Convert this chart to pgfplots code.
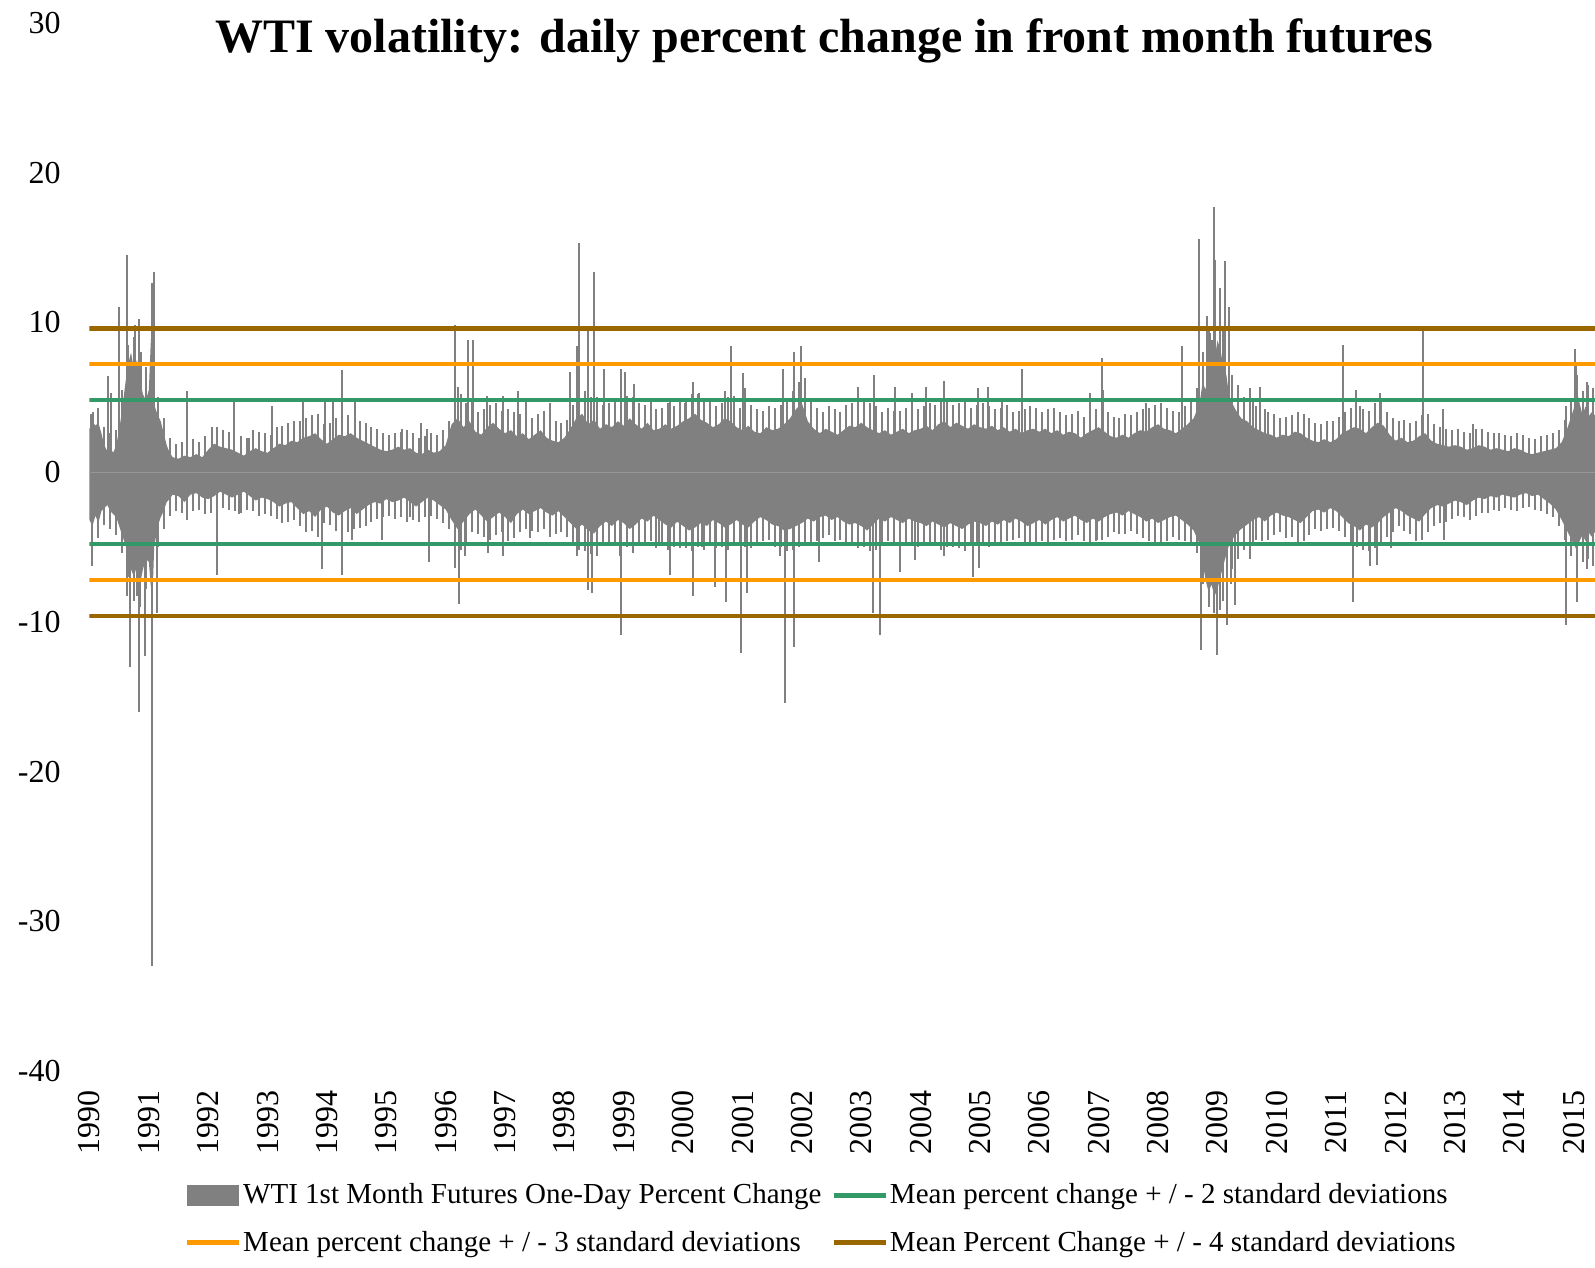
\documentclass[border=0pt]{standalone}
\usepackage{fontspec}
\setmainfont{Liberation Serif}
\usepackage{pgfplots}
\pgfplotsset{compat=1.18}
\definecolor{barg}{RGB}{128,128,128}
\definecolor{sdgreen}{RGB}{51,153,102}
\definecolor{sdorange}{RGB}{255,153,0}
\definecolor{sdbrown}{RGB}{153,102,0}
\definecolor{zeroline}{RGB}{150,150,150}
\begin{document}
\begin{tikzpicture}
\path[use as bounding box] (-44.75pt,-98.5pt) rectangle (752.75pt,535.5pt);
\begin{axis}[
  at={(0,0)}, anchor=south west,
  scale only axis, width=752.75pt, height=524pt,
  xmin=1990, xmax=2015.36, ymin=-40, ymax=30,
  axis line style={draw=none},
  major tick length=0pt,
  xtick={1990,1991,1992,1993,1994,1995,1996,1997,1998,1999,2000,2001,2002,2003,2004,2005,2006,2007,2008,2009,2010,2011,2012,2013,2014,2015},
  xticklabels={1990,1991,1992,1993,1994,1995,1996,1997,1998,1999,2000,2001,2002,2003,2004,2005,2006,2007,2008,2009,2010,2011,2012,2013,2014,2015},
  ytick={-40,-30,-20,-10,0,10,20,30},
  yticklabels={-40,-30,-20,-10,0,10,20,30},
  ticklabel style={font=\fontsize{16}{19}\selectfont, inner sep=0pt},
  xticklabel style={rotate=90, anchor=east},
  yticklabel style={anchor=east},
  xticklabel shift=9.5pt,
  yticklabel shift=14.25pt,
  clip=true,
  legend columns=2,
  legend cell align=left,
  legend style={at={(0.486,-0.1412)}, anchor=center, draw=none, fill=none,
    font=\fontsize{14.5}{17}\selectfont, row sep=10pt,
    /tikz/every even column/.append style={column sep=4pt},
    nodes={inner sep=1pt}},
]
% upper core of daily changes
\addplot[fill=barg, draw=none, forget plot] coordinates {
(1990.00,2.9)(1990.05,3.4)(1990.10,3.1)(1990.15,3.3)(1990.20,2.6)(1990.25,1.8)(1990.30,1.4)(1990.35,1.6)(1990.40,1.3)(1990.45,1.8)
(1990.50,2.8)(1990.55,4.2)(1990.60,5.8)(1990.65,7.2)(1990.70,8.0)(1990.75,6.8)(1990.80,7.5)(1990.85,6.2)(1990.90,5.2)(1990.95,4.8)
(1991.00,5.5)(1991.03,8.5)(1991.06,10.5)(1991.09,4.5)(1991.15,3.8)(1991.20,3.4)(1991.25,2.6)(1991.30,1.8)(1991.35,1.3)(1991.40,1.0)
(1991.50,0.9)(1991.60,1.1)(1991.70,1.0)(1991.80,1.2)(1991.90,1.0)(1992.00,1.5)(1992.10,1.9)(1992.20,1.7)(1992.30,1.6)(1992.40,1.5)
(1992.50,1.3)(1992.60,1.1)(1992.70,1.4)(1992.80,1.6)(1992.90,1.4)(1993.00,1.3)(1993.10,1.6)(1993.20,1.9)(1993.30,1.8)(1993.40,2.1)
(1993.50,2.0)(1993.60,2.3)(1993.70,2.4)(1993.80,2.6)(1993.90,2.2)(1994.00,1.9)(1994.10,2.2)(1994.20,2.5)(1994.30,2.4)(1994.40,2.6)
(1994.50,2.3)(1994.60,2.1)(1994.70,1.9)(1994.80,1.7)(1994.90,1.5)(1995.00,1.4)(1995.10,1.5)(1995.20,1.7)(1995.30,1.5)(1995.40,1.6)
(1995.50,1.3)(1995.60,1.2)(1995.70,1.5)(1995.80,1.3)(1995.90,1.4)(1996.00,1.8)(1996.10,3.2)(1996.20,3.6)(1996.30,3.0)(1996.40,3.4)
(1996.50,2.7)(1996.60,2.5)(1996.70,3.0)(1996.80,3.3)(1996.90,2.9)(1997.00,2.6)(1997.10,2.8)(1997.20,2.4)(1997.30,2.6)(1997.40,2.2)
(1997.50,2.5)(1997.60,2.8)(1997.70,2.3)(1997.80,2.1)(1997.90,2.0)(1998.00,2.3)(1998.10,2.9)(1998.20,3.6)(1998.30,3.9)(1998.40,3.2)
(1998.50,3.5)(1998.60,2.9)(1998.70,3.2)(1998.80,3.0)(1998.90,3.4)(1999.00,3.1)(1999.10,3.6)(1999.20,3.2)(1999.30,2.9)(1999.40,3.3)
(1999.50,2.8)(1999.60,2.9)(1999.70,3.2)(1999.80,2.9)(1999.90,3.1)(2000.00,3.4)(2000.10,3.6)(2000.20,3.9)(2000.30,3.5)(2000.40,3.3)
(2000.50,3.0)(2000.60,3.2)(2000.70,3.6)(2000.80,3.4)(2000.90,3.0)(2001.00,2.8)(2001.10,3.1)(2001.20,2.7)(2001.30,2.6)(2001.40,3.0)
(2001.50,2.8)(2001.60,2.9)(2001.70,3.2)(2001.80,3.6)(2001.90,4.2)(2002.00,4.6)(2002.10,3.4)(2002.20,2.9)(2002.30,2.6)(2002.40,2.9)
(2002.50,2.7)(2002.60,2.5)(2002.70,2.8)(2002.80,3.1)(2002.90,3.0)(2003.00,3.3)(2003.10,3.0)(2003.20,2.8)(2003.30,2.6)(2003.40,2.8)
(2003.50,2.5)(2003.60,2.7)(2003.70,2.9)(2003.80,2.6)(2003.90,2.8)(2004.00,2.9)(2004.10,3.1)(2004.20,2.8)(2004.30,3.2)(2004.40,3.4)
(2004.50,3.0)(2004.60,3.3)(2004.70,3.1)(2004.80,2.9)(2004.90,3.2)(2005.00,3.0)(2005.10,2.9)(2005.20,3.1)(2005.30,2.8)(2005.40,3.0)
(2005.50,2.7)(2005.60,2.9)(2005.70,2.6)(2005.80,2.8)(2005.90,2.9)(2006.00,2.7)(2006.10,2.9)(2006.20,2.6)(2006.30,2.8)(2006.40,2.5)
(2006.50,2.7)(2006.60,2.6)(2006.70,2.3)(2006.80,2.6)(2006.90,2.8)(2007.00,3.0)(2007.10,2.7)(2007.20,2.4)(2007.30,2.3)(2007.40,2.5)
(2007.50,2.3)(2007.60,2.6)(2007.70,2.8)(2007.80,2.7)(2007.90,3.0)(2008.00,3.2)(2008.10,2.9)(2008.20,2.8)(2008.30,2.6)(2008.40,2.9)
(2008.50,3.2)(2008.60,3.6)(2008.70,4.6)(2008.75,6.0)(2008.80,5.5)(2008.85,7.0)(2008.90,6.5)(2008.95,7.5)(2009.00,8.8)(2009.05,8.2)
(2009.10,7.0)(2009.15,6.5)(2009.20,5.0)(2009.30,4.2)(2009.40,3.6)(2009.50,3.4)(2009.60,3.0)(2009.70,2.8)(2009.80,2.6)(2009.90,2.5)
(2010.00,2.3)(2010.10,2.5)(2010.20,2.4)(2010.30,2.7)(2010.40,2.6)(2010.50,2.3)(2010.60,2.1)(2010.70,2.0)(2010.80,2.2)(2010.90,2.0)
(2011.00,2.2)(2011.10,2.6)(2011.20,2.8)(2011.30,3.0)(2011.40,2.9)(2011.50,2.6)(2011.60,3.0)(2011.70,3.3)(2011.80,3.1)(2011.90,2.5)
(2012.00,2.1)(2012.10,2.3)(2012.20,2.0)(2012.30,2.1)(2012.40,2.4)(2012.50,2.6)(2012.60,2.1)(2012.70,1.9)(2012.80,1.8)(2012.90,1.7)
(2013.00,1.8)(2013.10,1.7)(2013.20,1.5)(2013.30,1.6)(2013.40,1.8)(2013.50,1.7)(2013.60,1.5)(2013.70,1.6)(2013.80,1.5)(2013.90,1.4)
(2014.00,1.6)(2014.10,1.5)(2014.20,1.3)(2014.30,1.2)(2014.40,1.3)(2014.50,1.4)(2014.60,1.5)(2014.70,1.6)(2014.80,2.0)(2014.90,3.0)
(2015.00,4.2)(2015.05,5.5)(2015.10,4.6)(2015.15,3.8)(2015.20,4.4)(2015.25,3.7)(2015.30,4.0)(2015.36,3.8)
} \closedcycle;
% lower core of daily changes
\addplot[fill=barg, draw=none, forget plot] coordinates {
(1990.00,-3.2)(1990.05,-3.6)(1990.10,-2.9)(1990.15,-3.4)(1990.20,-2.6)(1990.25,-2.4)(1990.30,-2.2)(1990.35,-2.6)(1990.40,-2.8)(1990.45,-3.0)
(1990.50,-3.6)(1990.55,-4.2)(1990.60,-4.8)(1990.65,-5.5)(1990.70,-6.5)(1990.75,-7.0)(1990.80,-6.2)(1990.85,-7.5)(1990.90,-6.5)(1990.95,-5.8)
(1991.00,-6.0)(1991.03,-7.5)(1991.06,-8.5)(1991.09,-5.0)(1991.15,-3.6)(1991.20,-3.0)(1991.25,-2.6)(1991.30,-2.0)(1991.35,-1.8)(1991.40,-1.5)
(1991.50,-1.6)(1991.60,-2.0)(1991.70,-1.5)(1991.80,-1.4)(1991.90,-1.7)(1992.00,-1.8)(1992.10,-1.6)(1992.20,-1.3)(1992.30,-1.5)(1992.40,-1.7)
(1992.50,-1.5)(1992.60,-1.3)(1992.70,-1.6)(1992.80,-1.9)(1992.90,-1.7)(1993.00,-1.8)(1993.10,-2.0)(1993.20,-2.3)(1993.30,-2.1)(1993.40,-2.0)
(1993.50,-2.4)(1993.60,-2.8)(1993.70,-2.6)(1993.80,-3.0)(1993.90,-2.5)(1994.00,-2.3)(1994.10,-2.7)(1994.20,-2.9)(1994.30,-2.6)(1994.40,-2.4)
(1994.50,-2.8)(1994.60,-2.5)(1994.70,-2.2)(1994.80,-2.0)(1994.90,-2.1)(1995.00,-1.8)(1995.10,-2.0)(1995.20,-1.9)(1995.30,-1.7)(1995.40,-2.0)
(1995.50,-2.3)(1995.60,-2.0)(1995.70,-1.7)(1995.80,-1.9)(1995.90,-2.2)(1996.00,-2.5)(1996.10,-3.2)(1996.20,-3.8)(1996.30,-3.3)(1996.40,-2.8)
(1996.50,-2.5)(1996.60,-2.9)(1996.70,-3.3)(1996.80,-3.0)(1996.90,-2.7)(1997.00,-3.0)(1997.10,-3.4)(1997.20,-2.8)(1997.30,-2.5)(1997.40,-2.8)
(1997.50,-2.6)(1997.60,-2.4)(1997.70,-2.7)(1997.80,-2.9)(1997.90,-2.6)(1998.00,-3.0)(1998.10,-3.4)(1998.20,-3.8)(1998.30,-3.5)(1998.40,-3.9)
(1998.50,-4.1)(1998.60,-3.6)(1998.70,-3.3)(1998.80,-3.6)(1998.90,-3.2)(1999.00,-3.4)(1999.10,-3.8)(1999.20,-3.5)(1999.30,-3.1)(1999.40,-3.3)
(1999.50,-2.9)(1999.60,-3.2)(1999.70,-3.5)(1999.80,-3.7)(1999.90,-3.3)(2000.00,-3.6)(2000.10,-3.9)(2000.20,-3.7)(2000.30,-3.4)(2000.40,-3.6)
(2000.50,-3.2)(2000.60,-3.4)(2000.70,-3.7)(2000.80,-3.5)(2000.90,-3.2)(2001.00,-3.5)(2001.10,-3.7)(2001.20,-3.3)(2001.30,-3.0)(2001.40,-3.2)
(2001.50,-3.5)(2001.60,-3.6)(2001.70,-3.9)(2001.80,-3.8)(2001.90,-3.6)(2002.00,-3.4)(2002.10,-3.1)(2002.20,-3.3)(2002.30,-3.0)(2002.40,-2.9)
(2002.50,-3.2)(2002.60,-3.0)(2002.70,-3.3)(2002.80,-3.5)(2002.90,-3.4)(2003.00,-3.6)(2003.10,-3.9)(2003.20,-3.5)(2003.30,-3.1)(2003.40,-3.3)
(2003.50,-3.0)(2003.60,-3.2)(2003.70,-3.4)(2003.80,-3.1)(2003.90,-3.3)(2004.00,-3.4)(2004.10,-3.6)(2004.20,-3.3)(2004.30,-3.5)(2004.40,-3.7)
(2004.50,-3.4)(2004.60,-3.6)(2004.70,-3.8)(2004.80,-3.5)(2004.90,-3.3)(2005.00,-3.4)(2005.10,-3.6)(2005.20,-3.3)(2005.30,-3.5)(2005.40,-3.2)
(2005.50,-3.4)(2005.60,-3.1)(2005.70,-3.3)(2005.80,-3.6)(2005.90,-3.4)(2006.00,-3.2)(2006.10,-3.5)(2006.20,-3.2)(2006.30,-3.0)(2006.40,-3.3)
(2006.50,-3.1)(2006.60,-2.9)(2006.70,-3.2)(2006.80,-3.4)(2006.90,-3.1)(2007.00,-3.3)(2007.10,-3.0)(2007.20,-2.8)(2007.30,-2.7)(2007.40,-2.9)
(2007.50,-2.6)(2007.60,-2.8)(2007.70,-3.0)(2007.80,-3.3)(2007.90,-3.1)(2008.00,-3.4)(2008.10,-3.2)(2008.20,-3.0)(2008.30,-2.9)(2008.40,-3.2)
(2008.50,-3.5)(2008.60,-3.9)(2008.70,-4.8)(2008.75,-6.0)(2008.80,-7.2)(2008.85,-8.0)(2008.90,-7.5)(2008.95,-8.3)(2009.00,-7.8)(2009.05,-7.0)
(2009.10,-6.2)(2009.15,-5.5)(2009.20,-4.8)(2009.30,-4.2)(2009.40,-3.8)(2009.50,-3.5)(2009.60,-3.2)(2009.70,-3.0)(2009.80,-3.3)(2009.90,-2.9)
(2010.00,-2.7)(2010.10,-2.9)(2010.20,-3.0)(2010.30,-3.2)(2010.40,-3.4)(2010.50,-3.0)(2010.60,-2.6)(2010.70,-2.5)(2010.80,-2.7)(2010.90,-2.4)
(2011.00,-2.6)(2011.10,-3.0)(2011.20,-3.4)(2011.30,-3.6)(2011.40,-3.9)(2011.50,-3.5)(2011.60,-3.7)(2011.70,-3.4)(2011.80,-3.0)(2011.90,-2.7)
(2012.00,-2.4)(2012.10,-2.6)(2012.20,-2.9)(2012.30,-3.1)(2012.40,-3.3)(2012.50,-2.8)(2012.60,-2.4)(2012.70,-2.2)(2012.80,-2.3)(2012.90,-2.1)
(2013.00,-1.9)(2013.10,-2.0)(2013.20,-2.2)(2013.30,-1.9)(2013.40,-1.7)(2013.50,-1.8)(2013.60,-1.6)(2013.70,-1.7)(2013.80,-1.5)(2013.90,-1.6)
(2014.00,-1.7)(2014.10,-1.5)(2014.20,-1.4)(2014.30,-1.6)(2014.40,-1.5)(2014.50,-1.8)(2014.60,-2.1)(2014.70,-2.5)(2014.80,-3.2)(2014.90,-4.0)
(2015.00,-4.8)(2015.05,-5.2)(2015.10,-4.6)(2015.15,-4.2)(2015.20,-4.6)(2015.25,-4.0)(2015.30,-4.3)(2015.36,-4.0)
} \closedcycle;
% individual daily spikes
\addplot[ycomb, barg, line width=1pt, mark=none, forget plot] coordinates {
(1990.03,3.9)(1990.32,6.4)(1990.37,5.3)(1990.50,11.0)(1990.63,14.5)(1990.77,9.8)(1990.84,10.2)(1991.05,10.9)(1991.06,12.6)(1991.09,13.4)
(1991.65,5.4)(1992.06,3.0)(1992.43,4.7)(1992.68,2.3)(1993.07,4.4)(1993.59,4.7)(1993.97,4.7)(1994.11,4.7)(1994.26,6.8)(1994.47,4.7)
(1990.04,-6.3)(1990.63,-8.3)(1990.68,-13.0)(1990.80,-8.3)(1990.84,-16.0)(1990.94,-12.3)(1991.05,-33.0)(1991.13,-9.4)(1991.64,-3.2)(1992.15,-6.9)
(1992.51,-2.8)(1993.92,-6.5)(1994.26,-6.9)(1994.42,-4.5)(1994.92,-4.5)
(1995.26,2.9)(1995.58,3.3)(1995.68,2.9)(1996.16,9.8)(1996.21,5.7)(1996.38,8.8)(1996.46,8.8)(1996.69,5.1)(1996.97,5.1)(1997.22,5.4)
(1997.36,4.7)(1997.75,4.6)(1998.09,6.7)(1998.22,8.4)(1998.24,15.3)(1998.40,9.4)(1998.49,13.4)(1998.67,6.9)(1998.96,6.9)(1999.02,6.7)
(1999.18,5.9)(1999.78,4.7)(2000.03,4.6)(2000.17,6.0)
(1995.34,-3.3)(1995.72,-6.0)(1996.16,-6.4)(1996.22,-8.8)(1996.32,-5.6)(1996.72,-5.4)(1996.97,-5.6)(1997.42,-4.4)(1998.21,-5.6)(1998.40,-7.9)
(1998.46,-8.1)(1998.94,-5.6)(1998.96,-10.9)(1999.55,-5.1)(1999.77,-6.9)(2000.17,-8.3)(2000.31,-5.0)
(2000.26,5.3)(2000.71,5.4)(2000.80,8.4)(2001.01,6.6)(2001.04,5.6)(2001.69,6.9)(2001.87,8.0)(2001.98,8.4)(2002.05,6.3)(2002.94,5.7)
(2003.22,6.5)(2003.56,5.7)(2003.85,5.3)(2004.09,5.7)(2004.40,6.1)(2004.96,5.6)(2005.14,5.7)(2005.37,4.7)
(2000.54,-7.7)(2000.73,-8.7)(2000.98,-12.1)(2001.07,-8.1)(2001.63,-5.6)(2001.72,-15.4)(2001.87,-11.7)(2002.29,-6.0)(2003.19,-9.4)(2003.31,-10.9)
(2003.66,-6.7)(2003.90,-5.9)(2004.40,-5.6)(2004.89,-7.0)(2004.99,-6.4)
(2005.71,6.9)(2006.86,5.3)(2007.05,7.6)(2007.08,5.5)(2007.80,4.6)(2008.41,8.4)(2008.69,15.6)(2008.82,10.4)(2008.88,9.3)(2008.95,17.7)
(2008.96,14.2)(2009.04,12.3)(2009.13,14.1)(2009.19,11.0)(2009.55,5.6)(2009.72,5.7)
(2006.97,-4.5)(2008.73,-11.9)(2009.00,-12.2)(2009.16,-10.2)(2009.22,-7.5)(2009.30,-8.9)(2009.55,-5.8)
(2011.11,8.5)(2011.33,5.5)(2011.73,5.3)(2012.46,9.4)(2012.80,4.2)(2013.30,3.2)(2014.87,4.4)(2015.02,8.2)(2015.04,7.1)(2015.22,6.0)
(2011.29,-8.7)(2011.57,-6.3)(2011.69,-6.2)(2011.92,-5.1)(2012.82,-4.5)(2014.87,-10.2)(2015.06,-8.7)(2015.22,-6.5)
(1990.15,4.3)(1990.35,2.6)(1990.55,5.5)(1990.75,9.0)(1990.95,7.0)(1991.15,5.0)(1991.35,2.3)(1991.55,2.0)(1991.75,2.2)(1991.95,2.4)
(1992.15,3.0)(1992.35,2.7)(1992.55,2.4)(1992.75,2.8)(1992.95,2.6)(1993.15,3.0)(1993.35,3.3)(1993.55,3.4)(1993.75,3.8)(1993.95,3.2)
(1994.15,3.6)(1994.35,3.8)(1994.55,3.4)(1994.75,3.0)(1994.95,2.6)(1995.15,2.6)(1995.35,2.8)(1995.55,2.3)(1995.75,2.6)(1995.95,2.8)
(1996.15,5.0)(1996.35,4.6)(1996.55,4.0)(1996.75,4.5)(1996.95,4.1)(1997.15,4.0)(1997.35,3.8)(1997.55,3.9)(1997.75,3.6)(1997.95,3.3)
(1998.15,4.5)(1998.35,5.4)(1998.55,5.0)(1998.75,4.6)(1998.95,4.8)(1999.15,5.0)(1999.35,4.5)(1999.55,4.2)(1999.75,4.6)(1999.95,4.7)
(2000.15,5.2)(2000.35,4.8)(2000.55,4.4)(2000.75,5.0)(2000.95,4.3)(2001.15,4.5)(2001.35,4.1)(2001.55,4.3)(2001.75,4.7)(2001.95,6.0)
(2002.15,4.8)(2002.35,4.0)(2002.55,4.2)(2002.75,4.5)(2002.95,4.3)(2003.15,4.6)(2003.35,4.0)(2003.55,4.1)(2003.75,4.3)(2003.95,4.2)
(2004.15,4.6)(2004.35,4.8)(2004.55,4.5)(2004.75,4.7)(2004.95,4.5)(2005.15,4.4)(2005.35,4.3)(2005.55,4.0)(2005.75,4.2)(2005.95,4.3)
(2006.15,4.2)(2006.35,4.0)(2006.55,3.9)(2006.75,3.7)(2006.95,4.2)(2007.15,4.0)(2007.35,3.6)(2007.55,3.8)(2007.75,4.2)(2007.95,4.5)
(2008.15,4.3)(2008.35,4.0)(2008.55,4.8)(2008.75,8.0)(2008.85,9.5)(2009.05,10.0)(2009.25,6.5)(2009.45,5.0)(2009.65,4.4)(2009.85,4.0)
(2010.05,3.6)(2010.25,3.8)(2010.45,3.9)(2010.65,3.3)(2010.85,3.4)(2011.05,3.7)(2011.25,4.3)(2011.45,4.2)(2011.65,4.6)(2011.85,4.0)
(2012.05,3.4)(2012.25,3.3)(2012.45,3.8)(2012.65,3.2)(2012.85,2.9)(2013.05,2.9)(2013.25,2.6)(2013.45,2.9)(2013.65,2.6)(2013.85,2.5)
(2014.05,2.6)(2014.25,2.3)(2014.45,2.4)(2014.65,2.6)(2014.85,3.5)(2015.05,6.5)(2015.25,5.8)
(1990.05,-4.5)(1990.25,-3.5)(1990.45,-4.2)(1990.65,-7.0)(1990.85,-9.0)(1991.05,-9.5)(1991.25,-3.8)(1991.45,-2.6)(1991.65,-2.9)(1991.85,-2.5)
(1992.05,-2.7)(1992.25,-2.4)(1992.45,-2.6)(1992.65,-2.5)(1992.85,-2.9)(1993.05,-2.9)(1993.25,-3.4)(1993.45,-3.2)(1993.65,-4.0)(1993.85,-4.3)
(1994.05,-3.5)(1994.25,-4.1)(1994.45,-3.8)(1994.65,-3.6)(1994.85,-3.1)(1995.05,-2.9)(1995.25,-3.0)(1995.45,-3.2)(1995.65,-3.0)(1995.85,-3.1)
(1996.05,-3.8)(1996.25,-5.2)(1996.45,-4.0)(1996.65,-4.3)(1996.85,-4.2)(1997.05,-4.6)(1997.25,-4.0)(1997.45,-3.9)(1997.65,-3.8)(1997.85,-4.1)
(1998.05,-4.3)(1998.25,-5.2)(1998.45,-5.5)(1998.65,-4.9)(1998.85,-4.8)(1999.05,-5.0)(1999.25,-4.8)(1999.45,-4.6)(1999.65,-4.8)(1999.85,-5.0)
(2000.05,-5.1)(2000.25,-5.0)(2000.45,-4.9)(2000.65,-5.0)(2000.85,-4.8)(2001.05,-5.0)(2001.25,-4.7)(2001.45,-4.5)(2001.65,-5.0)(2001.85,-5.2)
(2002.05,-4.8)(2002.25,-4.6)(2002.45,-4.2)(2002.65,-4.5)(2002.85,-4.9)(2003.05,-5.0)(2003.25,-5.2)(2003.45,-4.6)(2003.65,-4.5)(2003.85,-4.7)
(2004.05,-4.8)(2004.25,-4.8)(2004.45,-5.0)(2004.65,-5.1)(2004.85,-4.8)(2005.05,-4.8)(2005.25,-4.7)(2005.45,-4.6)(2005.65,-4.4)(2005.85,-4.9)
(2006.05,-4.6)(2006.25,-4.5)(2006.45,-4.6)(2006.65,-4.2)(2006.85,-4.7)(2007.05,-4.5)(2007.25,-4.0)(2007.45,-4.1)(2007.65,-4.1)(2007.85,-4.6)
(2008.05,-4.7)(2008.25,-4.3)(2008.45,-4.6)(2008.65,-5.4)(2008.85,-9.0)(2009.05,-9.2)(2009.25,-6.5)(2009.45,-5.2)(2009.65,-4.5)(2009.85,-4.5)
(2010.05,-4.0)(2010.25,-4.3)(2010.45,-4.6)(2010.65,-3.8)(2010.85,-3.8)(2011.05,-3.9)(2011.25,-4.7)(2011.45,-5.2)(2011.65,-5.1)(2011.85,-4.3)
(2012.05,-3.6)(2012.25,-4.1)(2012.45,-4.5)(2012.65,-3.6)(2012.85,-3.3)(2013.05,-2.9)(2013.25,-3.2)(2013.45,-2.7)(2013.65,-2.5)(2013.85,-2.4)
(2014.05,-2.6)(2014.25,-2.3)(2014.45,-2.6)(2014.65,-3.0)(2014.85,-4.5)(2015.05,-6.2)(2015.25,-5.8)
(1990.06,4.0)(1990.25,3.0)(1990.45,2.8)(1990.65,8.5)(1990.86,8.0)(1991.25,3.6)(1991.45,1.9)(1991.85,2.0)(1992.25,2.8)(1992.65,2.3)
(1992.85,2.7)(1993.05,2.5)(1993.25,3.1)(1993.45,3.4)(1993.65,3.6)(1993.85,3.9)(1994.05,3.3)(1994.65,3.3)(1994.85,2.9)(1995.05,2.5)
(1995.25,2.7)(1995.45,2.6)(1995.65,2.4)(1995.85,2.5)(1996.05,3.4)(1996.25,5.2)(1996.45,4.9)(1996.65,4.2)(1996.85,4.6)(1997.05,4.2)
(1997.25,3.9)(1997.45,3.6)(1997.65,4.1)(1997.85,3.4)(1998.05,3.5)(1998.25,5.8)(1998.45,5.0)(1998.65,4.5)(1998.85,4.7)(1999.05,5.1)
(1999.25,4.6)(1999.45,4.8)(1999.65,4.3)(1999.85,4.4)(2000.05,4.9)(2000.25,5.2)(2000.45,4.7)(2000.65,4.6)(2000.85,5.1)(2001.05,4.4)
(2001.25,4.2)(2001.45,4.4)(2001.65,4.5)(2001.85,5.4)(2002.05,5.9)(2002.25,4.3)(2002.45,4.4)(2002.65,4.0)(2002.85,4.6)(2003.05,4.8)
(2003.25,4.4)(2003.45,4.3)(2003.65,4.1)(2003.85,4.5)(2004.05,4.4)(2004.25,4.5)(2004.45,4.9)(2004.65,4.6)(2004.85,4.3)(2005.05,4.6)
(2005.25,4.2)(2005.45,4.5)(2005.65,4.1)(2005.85,4.4)(2006.05,4.0)(2006.25,4.3)(2006.45,3.8)(2006.65,4.1)(2006.85,3.9)(2007.25,3.7)
(2007.45,3.9)(2007.65,4.0)(2007.85,4.3)(2008.05,4.6)(2008.25,4.1)(2008.45,4.4)(2008.65,5.6)(2008.90,8.8)(2009.10,9.5)(2009.35,5.8)
(2009.60,4.8)(2009.80,4.2)(2009.95,3.9)(2010.15,3.7)(2010.35,4.0)(2010.55,3.6)(2010.75,3.2)(2010.95,3.4)(2011.15,4.0)(2011.40,4.4)
(2011.55,4.1)(2011.75,4.8)(2011.95,3.6)(2012.15,3.5)(2012.35,3.4)(2012.55,3.9)(2012.75,3.0)(2012.95,2.8)(2013.15,2.7)(2013.35,2.9)
(2013.55,2.7)(2013.75,2.6)(2013.95,2.4)(2014.15,2.5)(2014.35,2.2)(2014.55,2.5)(2014.75,2.8)(2014.95,4.8)(2015.15,5.4)(2015.32,5.6)
(1990.15,-4.4)(1990.35,-3.8)(1990.55,-5.4)(1990.75,-8.6)(1990.96,-7.8)(1991.16,-5.0)(1991.35,-2.9)(1991.55,-2.7)(1991.75,-2.6)(1991.95,-2.8)
(1992.35,-2.5)(1992.55,-2.7)(1992.75,-2.6)(1992.95,-2.8)(1993.15,-3.1)(1993.35,-3.3)(1993.55,-3.6)(1993.75,-3.9)(1993.95,-3.4)(1994.15,-3.9)
(1994.35,-4.0)(1994.55,-3.7)(1994.75,-3.3)(1994.95,-3.0)(1995.15,-3.1)(1995.40,-3.0)(1995.55,-3.3)(1995.75,-2.9)(1995.95,-3.4)(1996.15,-4.6)
(1996.35,-4.8)(1996.55,-4.1)(1996.75,-4.5)(1996.95,-4.0)(1997.15,-4.4)(1997.35,-3.8)(1997.55,-4.0)(1997.75,-4.3)(1997.95,-4.0)(1998.15,-4.8)
(1998.35,-5.3)(1998.55,-5.6)(1998.75,-4.7)(1998.95,-5.2)(1999.15,-5.4)(1999.35,-4.7)(1999.60,-4.9)(1999.75,-5.2)(1999.95,-5.1)(2000.15,-5.3)
(2000.35,-5.2)(2000.55,-5.1)(2000.75,-5.2)(2000.95,-4.9)(2001.15,-5.1)(2001.35,-4.6)(2001.55,-5.0)(2001.75,-5.3)(2001.95,-5.0)(2002.15,-4.7)
(2002.35,-4.4)(2002.55,-4.6)(2002.75,-4.8)(2002.95,-5.1)(2003.15,-5.3)(2003.35,-4.9)(2003.55,-4.7)(2003.75,-4.9)(2003.95,-5.0)(2004.15,-4.9)
(2004.35,-5.2)(2004.55,-5.0)(2004.75,-5.3)(2004.95,-4.9)(2005.15,-5.0)(2005.35,-4.8)(2005.55,-4.5)(2005.75,-4.7)(2005.95,-4.8)(2006.15,-4.7)
(2006.35,-4.4)(2006.55,-4.5)(2006.75,-4.6)(2006.95,-4.6)(2007.15,-4.3)(2007.35,-4.1)(2007.55,-3.9)(2007.75,-4.4)(2007.95,-4.8)(2008.15,-4.6)
(2008.35,-4.5)(2008.55,-4.9)(2008.75,-7.5)(2008.95,-9.4)(2009.10,-8.6)(2009.35,-5.8)(2009.60,-4.8)(2009.75,-4.6)(2009.95,-4.2)(2010.15,-4.4)
(2010.35,-4.7)(2010.55,-4.2)(2010.75,-3.9)(2010.95,-3.7)(2011.15,-4.3)(2011.35,-5.0)(2011.55,-5.3)(2011.75,-4.9)(2011.95,-4.0)(2012.15,-3.9)
(2012.35,-4.6)(2012.55,-4.0)(2012.75,-3.4)(2012.95,-3.1)(2013.15,-3.0)(2013.35,-2.9)(2013.55,-2.7)(2013.75,-2.6)(2013.95,-2.5)(2014.15,-2.4)
(2014.35,-2.5)(2014.55,-2.8)(2014.75,-3.6)(2014.95,-5.6)(2015.15,-6.0)(2015.32,-6.3)
};
% horizontal axis line
\addplot[zeroline, line width=0.6pt, forget plot] coordinates {(1990,0)(2015.36,0)};
% standard deviation bands
\addplot[sdgreen, line width=2.25pt, forget plot] coordinates {(1990,4.81)(2015.36,4.81)};
\addplot[sdgreen, line width=2.25pt, forget plot] coordinates {(1990,-4.81)(2015.36,-4.81)};
\addplot[sdorange, line width=2.25pt, forget plot] coordinates {(1990,7.22)(2015.36,7.22)};
\addplot[sdorange, line width=2.25pt, forget plot] coordinates {(1990,-7.22)(2015.36,-7.22)};
\addplot[sdbrown, line width=2.25pt, forget plot] coordinates {(1990,9.6)(2015.36,9.6)};
\addplot[sdbrown, line width=2.25pt, forget plot] coordinates {(1990,-9.6)(2015.36,-9.6)};
\addlegendimage{legend image code/.code={\fill[barg] (0pt,-5pt) rectangle (25.5pt,5pt);}}
\addlegendentry{WTI 1st Month Futures One-Day Percent Change}
\addlegendimage{legend image code/.code={\draw[sdgreen, line width=2.25pt] (0pt,0pt) -- (26pt,0pt);}}
\addlegendentry{Mean percent change + / - 2 standard deviations}
\addlegendimage{legend image code/.code={\draw[sdorange, line width=2.25pt] (0pt,0pt) -- (26pt,0pt);}}
\addlegendentry{Mean percent change + / - 3 standard deviations}
\addlegendimage{legend image code/.code={\draw[sdbrown, line width=2.25pt] (0pt,0pt) -- (26pt,0pt);}}
\addlegendentry{Mean Percent Change + / - 4 standard deviations}
\end{axis}
\node[anchor=base, font=\fontsize{24}{28}\selectfont\bfseries] at (367.25pt,509pt) {WTI volatility: daily percent change in front month futures};
\end{tikzpicture}
\end{document}
